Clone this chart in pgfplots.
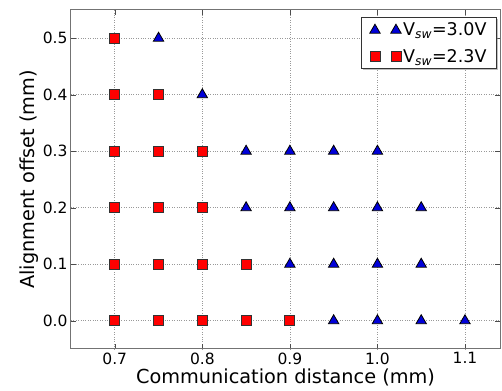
\documentclass[border=0pt]{standalone}
\usepackage{pgfplots}
\pgfplotsset{compat=1.18}
\usetikzlibrary{shadows}
\usepackage{fontspec}
\setmainfont{DejaVu Sans}
\begin{document}
\begin{tikzpicture}
\begin{axis}[
  name=ax,
  scale only axis,
  width=429pt, height=339pt,
  xmin=0.65, xmax=1.14, ymin=-0.05, ymax=0.55,
  xtick={0.7,0.8,0.9,1.0,1.1},
  ytick={0,0.1,0.2,0.3,0.4,0.5},
  xticklabel style={/pgf/number format/.cd,fixed,fixed zerofill,precision=1},
  yticklabel style={/pgf/number format/.cd,fixed,fixed zerofill,precision=1},
  /pgf/number format/assume math mode=true,
  ticklabel style={font=\fontsize{15.5}{17}\selectfont},
  label style={font=\fontsize{19.3}{21}\selectfont},
  xlabel={Communication distance (mm)},
  ylabel={Alignment offset (mm)},
  xlabel style={yshift=2pt},
  ylabel style={yshift=-3pt},
  tick align=inside,
  major tick length=5pt,
  axis line style={gray!90!black, line width=1pt},
  tick style={black!70},
  grid=major,
  grid style={dotted, gray!80, line width=0.7pt},
  legend style={at={(rel axis cs:0.993,0.978)}, anchor=north east,
    draw=black!80, line width=1pt, font=\fontsize{17.5}{20}\selectfont,
    row sep=8pt, inner xsep=8pt, inner ysep=3pt,
    drop shadow={shadow xshift=1.5pt, shadow yshift=-1.5pt, opacity=0.5}},
  legend cell align=left,
  legend image code/.code={
    \draw[#1] plot coordinates {(0pt,0pt)};
    \draw[#1] plot coordinates {(21pt,0pt)};
  },
]
\addplot[only marks, mark=triangle*, mark size=6pt, mark options={fill=blue!85!black, draw=black, line width=0.8pt}] coordinates {
(0.75,0.5) (0.8,0.4)
(0.85,0.3) (0.9,0.3) (0.95,0.3) (1.0,0.3)
(0.85,0.2) (0.9,0.2) (0.95,0.2) (1.0,0.2) (1.05,0.2)
(0.9,0.1) (0.95,0.1) (1.0,0.1) (1.05,0.1)
(0.95,0.0) (1.0,0.0) (1.05,0.0) (1.1,0.0)
};
\addlegendentry{V\textsubscript{\itshape sw}=3.0V}
\addplot[only marks, mark=square*, mark size=5pt, mark options={fill=red, draw=black!80, line width=0.8pt}] coordinates {
(0.7,0.5)
(0.7,0.4) (0.75,0.4)
(0.7,0.3) (0.75,0.3) (0.8,0.3)
(0.7,0.2) (0.75,0.2) (0.8,0.2)
(0.7,0.1) (0.75,0.1) (0.8,0.1) (0.85,0.1)
(0.7,0.0) (0.75,0.0) (0.8,0.0) (0.85,0.0) (0.9,0.0)
};
\addlegendentry{V\textsubscript{\itshape sw}=2.3V}
\end{axis}
\pgfresetboundingbox
\path ([shift={(-71pt,-42pt)}]ax.south west) rectangle ([shift={(2pt,10pt)}]ax.north east);
\end{tikzpicture}
\end{document}
